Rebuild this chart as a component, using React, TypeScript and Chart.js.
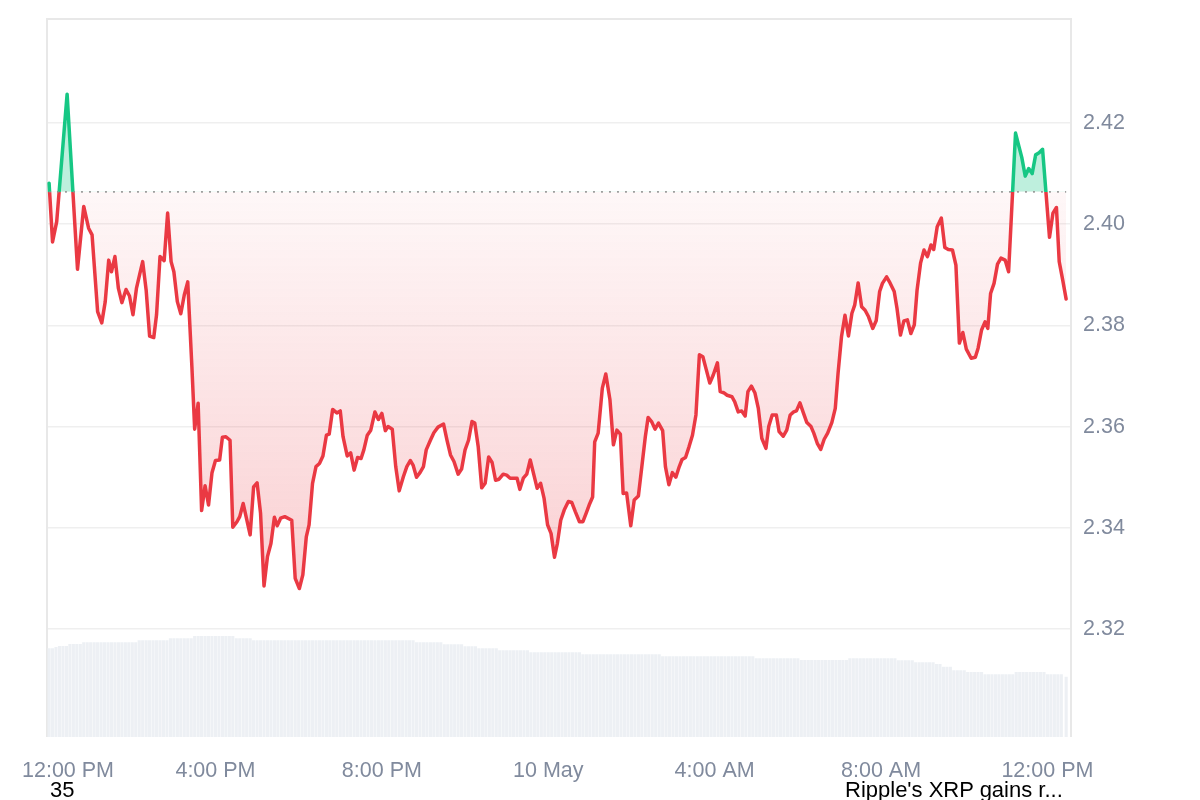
import React, { useEffect, useRef } from "react";
import { Chart, registerables } from "chart.js";

Chart.register(...registerables);

// ---------- data ----------
const X_TICK_MINUTES = [0, 240, 480, 720, 960, 1200, 1440];
const X_TICK_LABELS = ["12:00 PM", "4:00 PM", "8:00 PM", "10 May", "4:00 AM", "8:00 AM", "12:00 PM"];
const Y_TICKS = [2.32, 2.34, 2.36, 2.38, 2.4, 2.42];
const BASELINE = 2.4064;

// minutes after 12:00 PM
const PRICE_MINUTES = [
  0, 5, 11, 26, 41, 50, 57, 62, 70, 76, 81, 86, 90, 95, 100, 105, 111, 116, 121, 126,
  131, 135, 140, 145, 151, 155, 160, 166, 171, 176, 180, 185, 190, 195, 200, 206, 210, 215, 220, 225,
  230, 235, 240, 246, 250, 255, 261, 265, 271, 275, 280, 290, 295, 300, 305, 310, 315, 320, 325, 329,
  334, 340, 350, 355, 361, 366, 371, 375, 380, 385, 390, 395, 400, 404, 409, 415, 420, 424, 430, 435,
  440, 445, 450, 454, 459, 464, 470, 475, 480, 485, 489, 495, 500, 505, 511, 516, 521, 525, 530, 535,
  540, 544, 550, 555, 561, 569, 574, 579, 584, 590, 595, 600, 605, 610, 614, 619, 624, 629, 634, 639,
  644, 649, 655, 660, 665, 671, 675, 679, 684, 689, 694, 699, 704, 709, 714, 719, 724, 729, 733, 738,
  743, 749, 754, 759, 765, 770, 775, 779, 784, 787, 792, 798, 803, 809, 814, 819, 824, 828, 833, 839,
  844, 850, 855, 860, 864, 869, 874, 879, 885, 889, 894, 899, 904, 909, 913, 918, 923, 928, 933, 938,
  943, 948, 953, 958, 964, 968, 973, 978, 985, 989, 994, 999, 1004, 1008, 1013, 1018, 1023, 1028, 1034, 1038,
  1043, 1049, 1053, 1059, 1064, 1069, 1074, 1078, 1083, 1088, 1093, 1099, 1103, 1108, 1113, 1118, 1123, 1129, 1134, 1138,
  1143, 1148, 1153, 1158, 1162, 1167, 1172, 1177, 1182, 1188, 1193, 1198, 1202, 1208, 1213, 1219, 1223, 1228, 1233, 1238,
  1243, 1248, 1252, 1257, 1262, 1267, 1272, 1276, 1281, 1287, 1292, 1297, 1303, 1308, 1313, 1318, 1323, 1330, 1336, 1340,
  1345, 1350, 1354, 1358, 1363, 1368, 1373, 1379, 1384, 1394, 1399, 1403, 1408, 1413, 1418, 1423, 1428, 1433, 1443, 1448,
  1453, 1457, 1462, 1467,
];

const PRICES = [
  2.4081, 2.3965, 2.4005, 2.4257, 2.3911, 2.4035, 2.3992, 2.3979, 2.3827, 2.3805, 2.3847, 2.3929, 2.3906, 2.3936, 2.3873, 2.3845, 2.3871, 2.3858, 2.3821, 2.3873,
  2.3903, 2.3926, 2.387, 2.3779, 2.3776, 2.3821, 2.3936, 2.3928, 2.4022, 2.3926, 2.3906, 2.3847, 2.3823, 2.386, 2.3886, 2.3718, 2.3595, 2.3646, 2.3434, 2.3483,
  2.3445, 2.3509, 2.3533, 2.3534, 2.3579, 2.358, 2.3573, 2.3401, 2.3412, 2.3422, 2.3448, 2.3386, 2.3481, 2.3489, 2.3429, 2.3285, 2.3343, 2.3369, 2.3421, 2.3404,
  2.3419, 2.3422, 2.3415, 2.33, 2.328, 2.3307, 2.3382, 2.3406, 2.3488, 2.3521, 2.3527, 2.3542, 2.3583, 2.3585, 2.3634, 2.3627, 2.3631, 2.358, 2.3542, 2.3548,
  2.3514, 2.3539, 2.3537, 2.3554, 2.3583, 2.3593, 2.3629, 2.3614, 2.3626, 2.3592, 2.36, 2.3595, 2.3521, 2.3473, 2.3501, 2.3521, 2.3533, 2.3524, 2.35, 2.3509,
  2.3521, 2.3554, 2.3573, 2.3588, 2.3599, 2.3605, 2.3573, 2.3544, 2.3531, 2.3506, 2.3516, 2.3554, 2.3573, 2.361, 2.3607, 2.356, 2.3479, 2.3488, 2.354, 2.3529,
  2.3494, 2.3496, 2.3506, 2.3504, 2.3498, 2.3498, 2.3498, 2.3476, 2.3498, 2.3506, 2.3534, 2.3506, 2.3478, 2.3488, 2.3458, 2.3406, 2.3389, 2.3342, 2.3368, 2.3415,
  2.3435, 2.3452, 2.345, 2.3432, 2.3412, 2.3412, 2.343, 2.3445, 2.3461, 2.357, 2.3587, 2.3676, 2.3704, 2.3653, 2.3564, 2.3593, 2.3585, 2.3468, 2.3469, 2.3404,
  2.3455, 2.3463, 2.3521, 2.358, 2.3618, 2.361, 2.3595, 2.3607, 2.3592, 2.3521, 2.3485, 2.3509, 2.35, 2.3521, 2.3535, 2.3539, 2.356, 2.3583, 2.3623, 2.3742,
  2.3738, 2.3712, 2.3686, 2.3702, 2.3726, 2.3669, 2.3667, 2.3662, 2.3659, 2.3649, 2.3629, 2.3631, 2.3621, 2.3669, 2.368, 2.3667, 2.3636, 2.3577, 2.3557, 2.36,
  2.3623, 2.3623, 2.359, 2.3581, 2.3593, 2.3623, 2.3629, 2.3631, 2.3647, 2.3627, 2.3608, 2.36, 2.3587, 2.3567, 2.3555, 2.3575, 2.3587, 2.3608, 2.3636, 2.3705,
  2.3778, 2.382, 2.3779, 2.3824, 2.384, 2.3884, 2.3837, 2.383, 2.3817, 2.3794, 2.3809, 2.3867, 2.3883, 2.3896, 2.3884, 2.3867, 2.3834, 2.3781, 2.3809, 2.3811,
  2.3784, 2.3801, 2.387, 2.3923, 2.3949, 2.3936, 2.3959, 2.395, 2.3995, 2.4012, 2.3954, 2.395, 2.3949, 2.3919, 2.3765, 2.3786, 2.3753, 2.3735, 2.3737, 2.3755,
  2.3791, 2.3807, 2.3794, 2.3863, 2.3883, 2.3921, 2.3933, 2.3929, 2.3906, 2.418, 2.4153, 2.4132, 2.4095, 2.411, 2.41, 2.4137, 2.4141, 2.4148, 2.3974, 2.4022,
  2.4033, 2.3926, 2.389, 2.3852,
];

// rolling 24h volume (USD billions), one bar every 5 minutes; last bar is the live one
const VOLUME_BILLIONS = [
  3.55, 3.55,
  3.6,
  3.64, 3.64, 3.64,
  3.72, 3.72, 3.72, 3.72,
  3.79, 3.79, 3.79, 3.79, 3.79, 3.79, 3.79, 3.79,
  3.79, 3.79, 3.79, 3.79, 3.79, 3.79, 3.79, 3.79,
  3.87, 3.87, 3.87, 3.87, 3.87, 3.87, 3.87, 3.87, 3.87,
  3.95, 3.95, 3.95, 3.95, 3.95, 3.95, 3.95,
  4.04, 4.04, 4.04, 4.04, 4.04, 4.04, 4.04, 4.04, 4.04, 4.04, 4.04, 4.04,
  3.95, 3.95, 3.95, 3.95, 3.95,
  3.87, 3.87, 3.87, 3.87, 3.87, 3.87, 3.87, 3.87,
  3.87, 3.87, 3.87, 3.87, 3.87, 3.87, 3.87, 3.87,
  3.87, 3.87, 3.87, 3.87, 3.87, 3.87, 3.87, 3.87,
  3.87, 3.87, 3.87, 3.87, 3.87, 3.87, 3.87, 3.87,
  3.87, 3.87, 3.87, 3.87, 3.87, 3.87, 3.87, 3.87,
  3.87, 3.87, 3.87, 3.87, 3.87, 3.87, 3.87,
  3.79, 3.79, 3.79, 3.79, 3.79, 3.79, 3.79, 3.79,
  3.71, 3.71, 3.71, 3.71, 3.71, 3.71,
  3.63, 3.63, 3.63, 3.63,
  3.55, 3.55, 3.55, 3.55, 3.55, 3.55,
  3.47, 3.47, 3.47, 3.47, 3.47, 3.47, 3.47, 3.47, 3.47,
  3.39, 3.39, 3.39, 3.39, 3.39, 3.39, 3.39, 3.39, 3.39, 3.39, 3.39, 3.39, 3.39, 3.39, 3.39,
  3.31, 3.31, 3.31, 3.31, 3.31, 3.31, 3.31, 3.31,
  3.31, 3.31, 3.31, 3.31, 3.31, 3.31, 3.31, 3.31,
  3.31, 3.31, 3.31, 3.31, 3.31, 3.31, 3.31,
  3.23, 3.23, 3.23, 3.23, 3.23, 3.23, 3.23, 3.23,
  3.23, 3.23, 3.23, 3.23, 3.23, 3.23, 3.23, 3.23,
  3.23, 3.23, 3.23, 3.23, 3.23, 3.23, 3.23, 3.23,
  3.23, 3.23, 3.23,
  3.15, 3.15, 3.15, 3.15, 3.15, 3.15, 3.15, 3.15, 3.15, 3.15, 3.15, 3.15, 3.15,
  3.08, 3.08, 3.08, 3.08, 3.08, 3.08, 3.08, 3.08, 3.08, 3.08, 3.08, 3.08, 3.08, 3.08,
  3.15, 3.15, 3.15, 3.15, 3.15, 3.15, 3.15, 3.15, 3.15, 3.15, 3.15, 3.15, 3.15, 3.15,
  3.07, 3.07, 3.07, 3.07, 3.07,
  2.99, 2.99, 2.99, 2.99, 2.99, 2.99,
  2.92, 2.92,
  2.81, 2.81, 2.81,
  2.67, 2.67, 2.67, 2.67,
  2.6, 2.6, 2.6, 2.6, 2.6,
  2.51, 2.51, 2.51, 2.51, 2.51, 2.51, 2.51, 2.51, 2.51,
  2.6, 2.6, 2.6, 2.6, 2.6, 2.6, 2.6, 2.6, 2.6,
  2.51, 2.51, 2.51, 2.51, 2.51,
  2.41,
];
const VOLUME_STEP_MINUTES = 5;
const LAST_VOLUME_MINUTE = 1467;

// axis ranges
const X_MIN = -3;
const X_MAX = 1474;
const Y_MIN = 2.29866;
const Y_MAX = 2.44055;
const VOLUME_AXIS_MAX = 28.72;

// ---------- styles ----------
const GREEN = "#16c784";
const RED = "#ea3943";
const GREEN_FILL = "rgba(22,199,132,0.28)";
const TICK_COLOR = "#808a9d";
const GRID_COLOR = "#efefef";
const FRAME_COLOR = "#e8e8e8";
const VOLUME_COLOR = "#edf0f4";
const FONT = '"Liberation Sans", Arial, Helvetica, sans-serif';
const TICK_FONT_SIZE = 21.5;

function lineGradient(chart: any) {
  const { ctx, chartArea, scales } = chart;
  if (!chartArea || !scales.y) return RED;
  const yb = scales.y.getPixelForValue(BASELINE);
  const f = Math.min(1, Math.max(0, (yb - chartArea.top) / (chartArea.bottom - chartArea.top)));
  const g = ctx.createLinearGradient(0, chartArea.top, 0, chartArea.bottom);
  g.addColorStop(0, GREEN);
  g.addColorStop(f, GREEN);
  g.addColorStop(f, RED);
  g.addColorStop(1, RED);
  return g;
}

function belowGradient(chart: any) {
  const { ctx, chartArea, scales } = chart;
  if (!chartArea || !scales.y) return "rgba(234,57,67,0.12)";
  const yb = scales.y.getPixelForValue(BASELINE);
  const yl = scales.y.getPixelForValue(Math.min(...PRICES));
  const g = ctx.createLinearGradient(0, yb, 0, yl);
  g.addColorStop(0, "rgba(234,57,67,0.04)");
  g.addColorStop(1, "rgba(234,57,67,0.24)");
  return g;
}

const framePlugin = {
  id: "frame",
  beforeDatasetsDraw(chart: any) {
    const { ctx, chartArea } = chart;
    ctx.save();
    ctx.strokeStyle = FRAME_COLOR;
    ctx.lineWidth = 2;
    ctx.beginPath();
    ctx.moveTo(chartArea.left, chartArea.bottom);
    ctx.lineTo(chartArea.left, chartArea.top);
    ctx.lineTo(chartArea.right, chartArea.top);
    ctx.lineTo(chartArea.right, chartArea.bottom);
    ctx.stroke();
    ctx.restore();
  },
};

const xLabelsPlugin = {
  id: "xLabels",
  afterDraw(chart: any) {
    const { ctx, chartArea, scales } = chart;
    const x = scales.x;
    ctx.save();
    ctx.font = `${TICK_FONT_SIZE}px ${FONT}`;
    ctx.fillStyle = TICK_COLOR;
    ctx.textAlign = "center";
    ctx.textBaseline = "alphabetic";
    X_TICK_MINUTES.forEach((m, i) => {
      const label = X_TICK_LABELS[i];
      const w = ctx.measureText(label).width;
      const px = x.getPixelForValue(m);
      const cx = Math.max(px, chartArea.left - 25 + w / 2);
      ctx.fillText(label, cx, chartArea.bottom + 40);
    });
    ctx.restore();
  },
};

export default function App() {
  const canvasRef = useRef<HTMLCanvasElement | null>(null);

  useEffect(() => {
    const canvas = canvasRef.current;
    if (!canvas) return;

    const priceData = PRICE_MINUTES.map((t, i) => ({ x: t, y: PRICES[i] }));
    const volumeData = VOLUME_BILLIONS.map((v, i) => ({
      x: i === VOLUME_BILLIONS.length - 1 ? LAST_VOLUME_MINUTE : i * VOLUME_STEP_MINUTES,
      y: v,
    }));
    const baselineData = [
      { x: PRICE_MINUTES[0], y: BASELINE },
      { x: PRICE_MINUTES[PRICE_MINUTES.length - 1], y: BASELINE },
    ];

    const chart = new Chart(canvas, {
      type: "line",
      data: {
        datasets: [
          {
            type: "line",
            label: "baseline",
            data: baselineData,
            yAxisID: "y",
            borderColor: "rgba(140,140,140,0.9)",
            borderWidth: 1.8,
            borderDash: [1.8, 6.2],
            pointRadius: 0,
            fill: false,
            order: 0,
          },
          {
            type: "line",
            label: "price",
            data: priceData,
            yAxisID: "y",
            borderColor: (ctx: any) => lineGradient(ctx.chart),
            borderWidth: 3.5,
            borderJoinStyle: "round",
            borderCapStyle: "round",
            pointRadius: 0,
            tension: 0,
            fill: (ctx: any) => ({
              target: { value: BASELINE },
              above: GREEN_FILL,
              below: belowGradient(ctx.chart),
            }),
            order: 1,
          },
          {
            type: "bar",
            label: "volume",
            data: volumeData,
            yAxisID: "yVol",
            backgroundColor: VOLUME_COLOR,
            borderWidth: 0,
            barPercentage: 0.9,
            categoryPercentage: 1,
            order: 2,
          },
        ] as any,
      },
      options: {
        animation: false,
        responsive: false,
        events: [],
        layout: { padding: { left: 47, top: 19, right: 0, bottom: 63 } },
        plugins: {
          legend: { display: false },
          tooltip: { enabled: false },
        },
        scales: {
          x: {
            type: "linear",
            display: false,
            min: X_MIN,
            max: X_MAX,
            offset: false,
          },
          y: {
            type: "linear",
            position: "right",
            min: Y_MIN,
            max: Y_MAX,
            afterBuildTicks: (axis: any) => {
              axis.ticks = Y_TICKS.map((v) => ({ value: v }));
            },
            afterFit: (axis: any) => {
              axis.width = 129;
              axis.paddingTop = 0;
              axis.paddingBottom = 0;
            },
            border: { display: false },
            grid: { color: GRID_COLOR, lineWidth: 1.5, drawTicks: false },
            ticks: {
              padding: 12,
              color: TICK_COLOR,
              font: { family: FONT, size: TICK_FONT_SIZE },
              callback: (v: any) => Number(v).toFixed(2),
            },
          },
          yVol: {
            type: "linear",
            display: false,
            min: 0,
            max: VOLUME_AXIS_MAX,
            grid: { display: false },
          },
        },
      } as any,
      plugins: [framePlugin, xLabelsPlugin],
    });

    return () => chart.destroy();
  }, []);

  const noteStyle: React.CSSProperties = {
    position: "absolute",
    top: 779,
    fontFamily: FONT,
    fontSize: 22,
    lineHeight: "22px",
    color: "#000",
    whiteSpace: "nowrap",
  };

  return (
    <div
      style={{
        position: "fixed",
        left: 0,
        top: 0,
        width: 1200,
        height: 800,
        background: "#fff",
        overflow: "hidden",
      }}
    >
      <canvas ref={canvasRef} width={1200} height={800} style={{ display: "block", width: 1200, height: 800 }} />
      <span style={{ ...noteStyle, left: 50 }}>35</span>
      <span style={{ ...noteStyle, left: 845 }}>Ripple's XRP gains r...</span>
    </div>
  );
}
